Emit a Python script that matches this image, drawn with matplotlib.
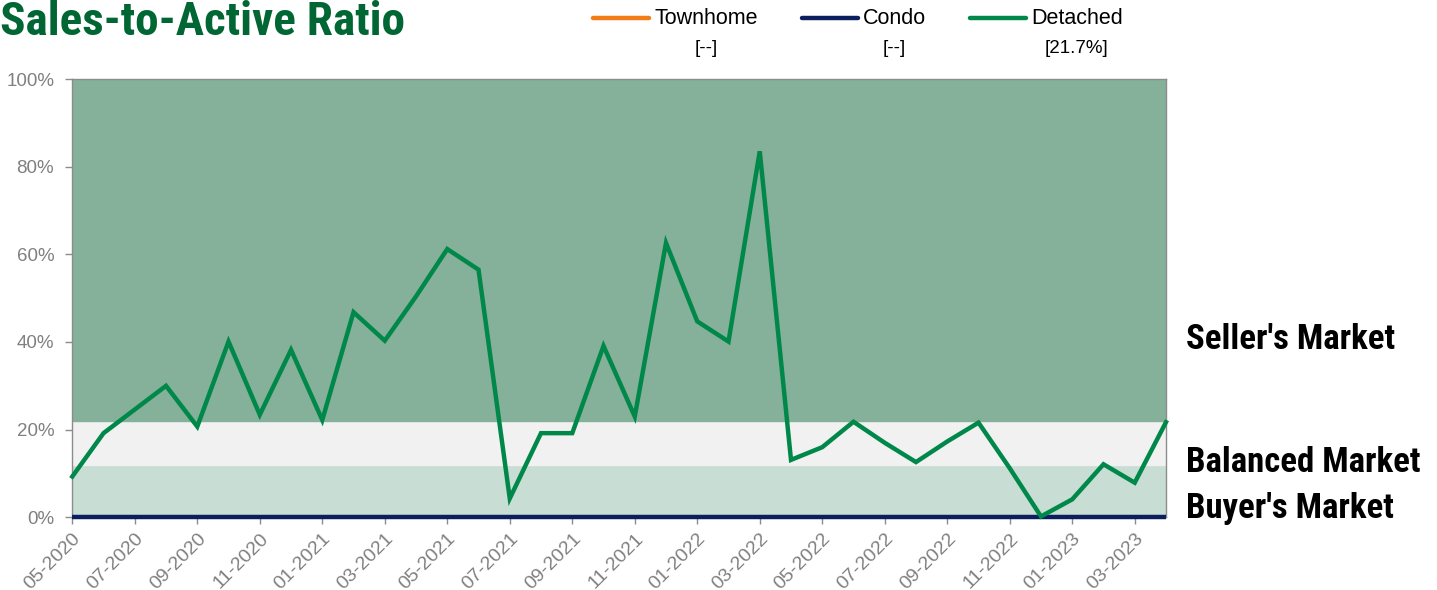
import matplotlib
matplotlib.use("Agg")
import matplotlib.pyplot as plt
from matplotlib.lines import Line2D
from matplotlib.ticker import PercentFormatter
from matplotlib import font_manager as fm

# monthly sales-to-active ratio (%), 05-2020 .. 04-2023
months = ["05-2020", "06-2020", "07-2020", "08-2020", "09-2020", "10-2020",
          "11-2020", "12-2020", "01-2021", "02-2021", "03-2021", "04-2021",
          "05-2021", "06-2021", "07-2021", "08-2021", "09-2021", "10-2021",
          "11-2021", "12-2021", "01-2022", "02-2022", "03-2022", "04-2022",
          "05-2022", "06-2022", "07-2022", "08-2022", "09-2022", "10-2022",
          "11-2022", "12-2022", "01-2023", "02-2023", "03-2023", "04-2023"]
detached = [9.3, 19.2, 24.6, 30.0, 20.7, 40.1, 23.4, 38.2, 22.2, 46.8, 40.3, 50.4,
            61.2, 56.5, 4.3, 19.2, 19.2, 39.1, 23.0, 62.6, 44.7, 40.1, 83.5, 13.1,
            16.0, 21.8, 17.0, 12.6, 17.3, 21.6, 11.2, 0.2, 4.1, 12.1, 7.9, 21.7]
condo = [0.0] * 36

# market bands (%)
buyer_top = 12
balanced_top = 22

legend_names = ["Townhome", "Condo", "Detached"]
legend_values = ["[--]", "[--]", "[21.7%]"]
legend_colors = ["#F47B16", "#0B1F5E", "#00884A"]

plt.rcParams["font.family"] = ["Liberation Sans", "DejaVu Sans"]


def condensed_bold():
    """Find a condensed / narrow bold face among the installed fonts."""
    prefs = ["Roboto Condensed", "Liberation Sans Narrow", "Open Sans Condensed",
             "Noto Sans Condensed", "Noto Sans SemiCondensed",
             "DejaVu Sans Condensed", "Noto Sans ExtraCondensed"]
    fonts = fm.fontManager.ttflist
    for p in prefs:
        for f in fonts:
            fname = f.fname.replace("-", " ").replace("_", " ")
            if (f.name == p or p.replace(" ", "") in f.fname.replace("-", "").replace("_", "")) \
                    and (f.weight in ("bold", 700) or "Bold" in f.fname) \
                    and "Italic" not in f.fname and "Extra" not in fname.replace(p, "") \
                    and "Semi" not in fname.replace(p, ""):
                return fm.FontProperties(fname=f.fname), True
    for f in fonts:
        n = f.fname
        if ("Condensed" in n or "Narrow" in n) and "Bold" in n and "Italic" not in n \
                and "Extra" not in n and "Semi" not in n:
            return fm.FontProperties(fname=n), True
    return fm.FontProperties(family="Liberation Sans", weight="bold"), False


cond_fp, is_cond = condensed_bold()

fig = plt.figure(figsize=(14.37, 5.90), dpi=100)
ax = fig.add_axes([0.0503, 0.1232, 0.7611, 0.7429])

x = list(range(len(months)))
ax.axhspan(0, buyer_top, color="#C8DDD3", zorder=0)
ax.axhspan(buyer_top, balanced_top, color="#F1F1F1", zorder=0)
ax.axhspan(balanced_top, 100, color="#85B09A", zorder=0)

ax.plot(x, condo, color=legend_colors[1], lw=3.2, zorder=3, clip_on=False,
        solid_capstyle="butt")
ax.plot(x, detached, color=legend_colors[2], lw=3.2, zorder=4, clip_on=False,
        solid_joinstyle="miter")

ax.set_xlim(0, len(months) - 1)
ax.set_ylim(0, 100)
ax.set_yticks([0, 20, 40, 60, 80, 100])
ax.yaxis.set_major_formatter(PercentFormatter(decimals=0))
ax.set_xticks(x[::2])
ax.set_xticklabels(months[::2], rotation=45, ha="right", rotation_mode="anchor")

for s in ax.spines.values():
    s.set_color("#8C8C8C")
    s.set_linewidth(1.0)
ax.tick_params(axis="y", colors="#8C8C8C", labelsize=13.5, length=5, width=1,
               labelcolor="#808080", pad=8)
ax.tick_params(axis="x", colors="#8C8C8C", labelsize=14, length=5, width=1,
               labelcolor="#808080", pad=4)

# title and market labels, in a condensed bold face
title_fp = cond_fp.copy()
title_fp.set_size(34 if is_cond else 27)
mk_fp = cond_fp.copy()
mk_fp.set_size(25 if is_cond else 18)

fig.text(0.0, 0.963, "Sales-to-Active Ratio", fontproperties=title_fp,
         color="#006633", va="center", ha="left")

for label, yv in [("Seller's Market", 40.5), ("Balanced Market", 12.6),
                  ("Buyer's Market", 2.0)]:
    ax.text(1.018, yv, label, transform=ax.get_yaxis_transform(),
            fontproperties=mk_fp, color="black", va="center", ha="left",
            clip_on=False)

# legend drawn in figure coords
leg_x = [0.4127, 0.5581, 0.6750]
for lx, name, val, col in zip(leg_x, legend_names, legend_values, legend_colors):
    fig.add_artist(Line2D([lx, lx + 0.039], [0.969, 0.969], color=col, lw=3.2,
                          solid_capstyle="round", transform=fig.transFigure))
    t = fig.text(lx + 0.0425, 0.969, name, fontsize=15.5, va="center",
                 ha="left", color="black")
    fig.canvas.draw()
    bb = t.get_window_extent().transformed(fig.transFigure.inverted())
    fig.text((bb.x0 + bb.x1) / 2, 0.918, val, fontsize=13.5, va="center",
             ha="center", color="black")

fig.savefig("out.png", dpi=100)
